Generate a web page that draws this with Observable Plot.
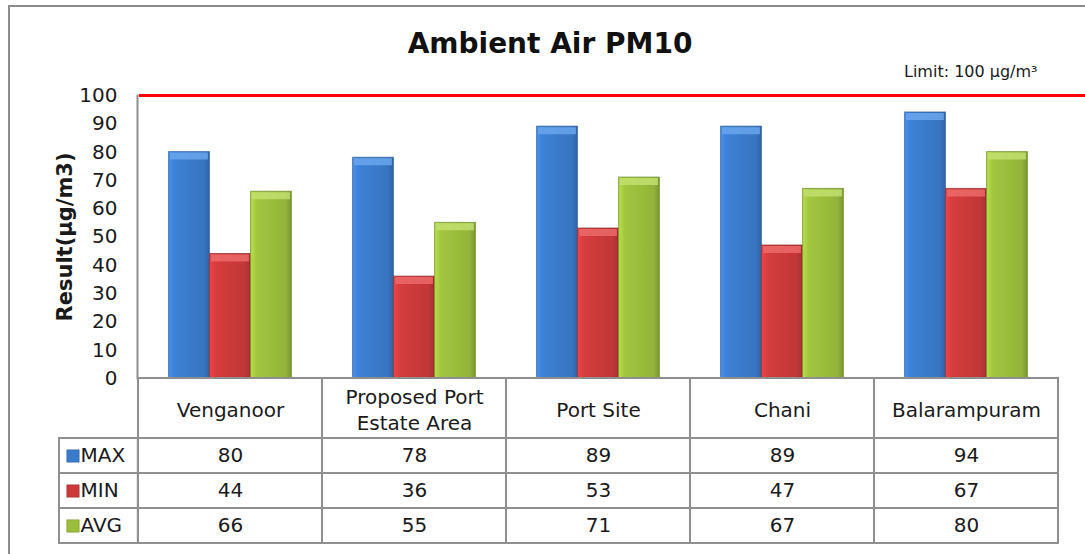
<!DOCTYPE html>
<html>
<head>
<meta charset="utf-8">
<script src="https://cdn.jsdelivr.net/npm/d3@7"></script>
<script src="https://cdn.jsdelivr.net/npm/@observablehq/plot@0.6"></script>
<style>
  html, body { margin: 0; padding: 0; background: #fff; overflow: hidden; }
  #wrap { position: relative; width: 1085px; height: 554px; overflow: hidden; font-family: "DejaVu Sans", sans-serif; }
  #border { position: absolute; left: 8px; top: 5px; width: 1200px; height: 700px; border: 2px solid #8c8c8c; box-sizing: border-box; }
  #title { position: absolute; left: 0; top: 30px; width: 1100px; text-align: center; font-size: 28px; line-height: 28px; font-weight: bold; color: #111; }
  .layer { position: absolute; left: 0; }
</style>
</head>
<body>
<div id="wrap">
  <div id="border"></div>
  <div id="title"></div>
  <div id="chart" class="layer" style="top:0"></div>
  <div id="table" class="layer" style="top:376px"></div>
</div>
<script>
// ---- data ----
const title = "Ambient Air PM10";
const sites = ["Venganoor", "Proposed Port\nEstate Area", "Port Site", "Chani", "Balarampuram"];
const seriesNames = ["MAX", "MIN", "AVG"];
const maxValues = [80, 78, 89, 89, 94];
const minValues = [44, 36, 53, 47, 67];
const avgValues = [66, 55, 71, 67, 80];
const yTicks = [0, 10, 20, 30, 40, 50, 60, 70, 80, 90, 100];
const limitValue = 100;
const limitUnit = "µg/m³";
const yLabel = "Result(µg/m3)";

// ---- styling / layout ----
const colors = {MAX: "#3b7bcb", MIN: "#cc3a3a", AVG: "#9abd3c"};
const highlights = {MAX: "#6aa6ec", MIN: "#ec6a6a", AVG: "#c2df6e"};
const outlines = {MAX: "#2b5a94", MIN: "#8f2a2a", AVG: "#6b8a28"};
const gradIds = {MAX: "gMax", MIN: "gMin", AVG: "gAvg"};
const left = 137, right = 1058, W = 1085;
const bw = (right - left) / sites.length;
const barW = 41;
const groupPad = (bw - 3 * barW) / 2;
const gridColor = "#8f8f8f";
const font = {fontFamily: "DejaVu Sans", fontSize: "20px", color: "#1a1a1a", background: "none"};

document.getElementById("title").textContent = title;

const valuesBySeries = {MAX: maxValues, MIN: minValues, AVG: avgValues};
const barData = seriesNames.flatMap((s) => sites.map((site, i) => ({site, series: s, value: valuesBySeries[s][i]})));

const barMarks = seriesNames.flatMap((s, k) => {
  const data = barData.filter((d) => d.series === s);
  const insetLeft = groupPad + k * barW;
  const insetRight = bw - insetLeft - barW;
  return [
    Plot.barY(data, {x: "site", y: "value", fill: `url(#${gradIds[s]})`, stroke: outlines[s], strokeWidth: 1, strokeOpacity: 0.7, insetLeft, insetRight}),
    Plot.tickY(data, {x: "site", y: "value", stroke: highlights[s], strokeWidth: 7, strokeOpacity: 0.85, dy: 4, insetLeft: insetLeft + 1.5, insetRight: insetRight + 1.5})
  ];
});

const chart = Plot.plot({
  width: W, height: 395,
  marginTop: 95, marginBottom: 17, marginLeft: left, marginRight: 0,
  x: {type: "band", domain: sites, range: [left, right], padding: 0, axis: null},
  y: {domain: [0, 100], axis: null},
  style: font,
  marks: [
    Plot.frame({anchor: "left", stroke: gridColor, strokeWidth: 2}),
    Plot.axisY({ticks: yTicks, tickSize: 0, tickPadding: 20, label: null, fontSize: 20}),
    ...barMarks,
    Plot.ruleY([limitValue], {stroke: "#ff0000", strokeWidth: 3, insetLeft: 2}),
    Plot.text([limitValue], {y: (d) => d, frameAnchor: "right", textAnchor: "end", dx: -48, dy: -24, fontSize: 16, text: (d) => `Limit: ${d} ${limitUnit}`}),
    Plot.text([yLabel], {frameAnchor: "left", textAnchor: "middle", rotate: -90, dx: -72, fontWeight: "bold", fontSize: 21, letterSpacing: "0.6px", text: (d) => d})
  ]
});

const defs = seriesNames.map((s) => {
  const c = d3.color(colors[s]);
  return `<linearGradient id="${gradIds[s]}" x1="0" x2="1" y1="0" y2="0">
    <stop offset="0%" stop-color="${c.brighter(0.5)}"/>
    <stop offset="14%" stop-color="${c.brighter(0.15)}"/>
    <stop offset="50%" stop-color="${c}"/>
    <stop offset="86%" stop-color="${c.darker(0.15)}"/>
    <stop offset="100%" stop-color="${c.darker(0.6)}"/>
  </linearGradient>`;
}).join("");
chart.insertAdjacentHTML("afterbegin", `<defs>${defs}</defs>`);
document.getElementById("chart").appendChild(chart);

// ---- data table ----
const cellData = barData;
const table = Plot.plot({
  width: W, height: 172,
  marginTop: 27, marginBottom: 5, marginLeft: 58, marginRight: W - right,
  x: {type: "band", domain: sites, range: [left, right], padding: 0, axis: null},
  y: {type: "band", domain: ["site", ...seriesNames], padding: 0, axis: null},
  style: font,
  marks: [
    Plot.cell(sites, {x: (d) => d, y: () => "site", insetTop: -25, fill: "white", stroke: gridColor, strokeWidth: 2}),
    Plot.cell(cellData, {x: "site", y: "series", fill: "white", stroke: gridColor, strokeWidth: 2}),
    Plot.cell(seriesNames, {x: () => sites[0], y: (d) => d, insetLeft: -(left - 58), insetRight: bw, fill: "white", stroke: gridColor, strokeWidth: 2}),
    Plot.text(sites, {x: (d) => d, y: () => "site", dy: -12.5, lineHeight: 1.3, fontSize: 20, text: (d) => d}),
    Plot.text(cellData, {x: "site", y: "series", text: (d) => String(d.value), fontSize: 20}),
    Plot.dot(seriesNames, {y: (d) => d, frameAnchor: "left", dx: 14.5, symbol: "square", r: 7, fill: (d) => colors[d], stroke: (d) => outlines[d], strokeWidth: 0.5}),
    Plot.text(seriesNames, {y: (d) => d, frameAnchor: "left", dx: 22, textAnchor: "start", fontSize: 20, text: (d) => d})
  ]
});
document.getElementById("table").appendChild(table);
</script>
</body>
</html>
